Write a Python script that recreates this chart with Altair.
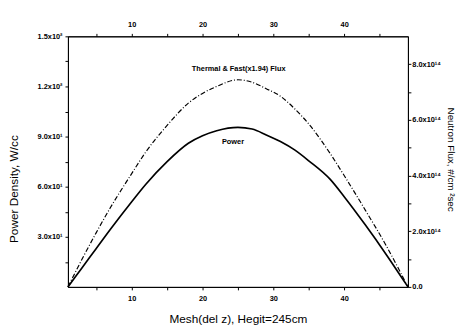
import altair as alt
import pandas as pd

# Mesh positions (del z)
mesh = [1, 3, 5, 7, 10, 12, 15, 18, 20, 22, 25, 27, 29, 31, 33, 35, 38, 40, 43, 46, 49]
# Power density, W/cc (left axis)
power = [0, 11.5, 23, 34.5, 51, 61.5, 75, 86, 90.5, 93.5, 95.5, 94.5, 91, 87, 82, 75.5, 64.5, 54, 37, 19, 0]
# Thermal & Fast (x1.94) flux, #/cm^2 sec (right axis)
flux = [0, 1.0e14, 1.95e14, 2.85e14, 4.07e14, 4.85e14, 5.8e14, 6.6e14, 6.95e14, 7.2e14, 7.44e14,
        7.35e14, 7.12e14, 6.85e14, 6.4e14, 5.85e14, 4.8e14, 4.0e14, 2.75e14, 1.45e14, 0]

# Tick values
x_ticks = [5, 10, 15, 20, 25, 30, 35, 40, 45]
left_ticks = [15, 30, 45, 60, 75, 90, 105, 120, 135, 150]
right_ticks = [0, 1e14, 2e14, 3e14, 4e14, 5e14, 6e14, 7e14, 8e14]

# Annotations
ann_text = ["Thermal & Fast(x1.94) Flux", "Power"]
ann_x = [25.1, 24.3]
ann_y = [130.5, 86.5]

df = pd.DataFrame({"mesh": mesh, "power": power, "flux": flux})
ann = pd.DataFrame({"text": ann_text, "x": ann_x, "y": ann_y})

FONT = "Liberation Sans"
xscale = alt.Scale(domain=[1, 49], nice=False, zero=False)

axis_common = dict(
    domainColor="black", tickColor="black", tickSize=3, labelColor="black",
    labelFont=FONT, labelFontSize=7.5, labelFontWeight="bold",
    titleFont=FONT, titleFontWeight="normal", titleColor="black",
    grid=False,
)

x_label_expr = "datum.value % 10 == 0 ? datum.label : ''"

power_line = alt.Chart(df).mark_line(color="black", strokeWidth=1.7, interpolate="monotone").encode(
    x=alt.X("mesh:Q", scale=xscale,
            axis=alt.Axis(orient="bottom", values=x_ticks, labelExpr=x_label_expr,
                          title="Mesh(del z), Hegit=245cm", labelPadding=5, titleFontSize=12,
                          titleX=173, titleY=32, titleBaseline="middle", titleAlign="center",
                          **axis_common)),
    y=alt.Y("power:Q", scale=alt.Scale(domain=[0, 150], nice=False),
            axis=alt.Axis(orient="left", values=left_ticks,
                          labelExpr="datum.value % 30 != 0 ? '' : (datum.value >= 100 ? format(datum.value/100, '.1f') + 'x10²' : format(datum.value/10, '.1f') + 'x10¹')",
                          title="Power Density, W/cc", labelPadding=3, titleFontSize=12,
                          titleAngle=270, titleX=-55, titleY=155, titleBaseline="middle", titleAlign="center",
                          **axis_common)),
)

flux_line = alt.Chart(df).mark_line(color="black", strokeWidth=1.2, strokeDash=[5, 2, 1, 2],
                                    interpolate="monotone").encode(
    x=alt.X("mesh:Q", scale=xscale,
            axis=alt.Axis(orient="top", values=x_ticks, labelExpr=x_label_expr, title=None,
                          labelPadding=5, **axis_common)),
    y=alt.Y("flux:Q", scale=alt.Scale(domain=[0, 9e14], nice=False),
            axis=alt.Axis(orient="right", values=right_ticks,
                          labelExpr="datum.value == 0 ? '0.0' : (round(datum.value/1e14) % 2 == 0 ? format(datum.value/1e14, '.1f') + 'x10¹⁴' : '')",
                          title="Neutron Flux, #/cm  ²sec", labelPadding=1, titleFontSize=10,
                          titleAngle=90, titleX=43, titleY=125, titleBaseline="middle", titleAlign="center",
                          **axis_common)),
)

labels = alt.Chart(ann).mark_text(font=FONT, fontSize=7.5, fontWeight="bold", color="black").encode(
    x=alt.X("x:Q", scale=xscale, axis=None),
    y=alt.Y("y:Q", scale=alt.Scale(domain=[0, 150], nice=False), axis=None),
    text="text:N",
)

chart = alt.layer(power_line, flux_line, labels).resolve_scale(
    y="independent"
).resolve_axis(
    x="independent", y="independent"
).properties(
    width=346, height=255,
    autosize=alt.AutoSizeParams(type="none"),
    padding={"left": 61, "top": 26, "right": 54, "bottom": 40},
    background="white",
).configure_view(stroke="black", strokeWidth=1)

chart.save("out.html", embed_options={"renderer": "svg", "actions": False})
